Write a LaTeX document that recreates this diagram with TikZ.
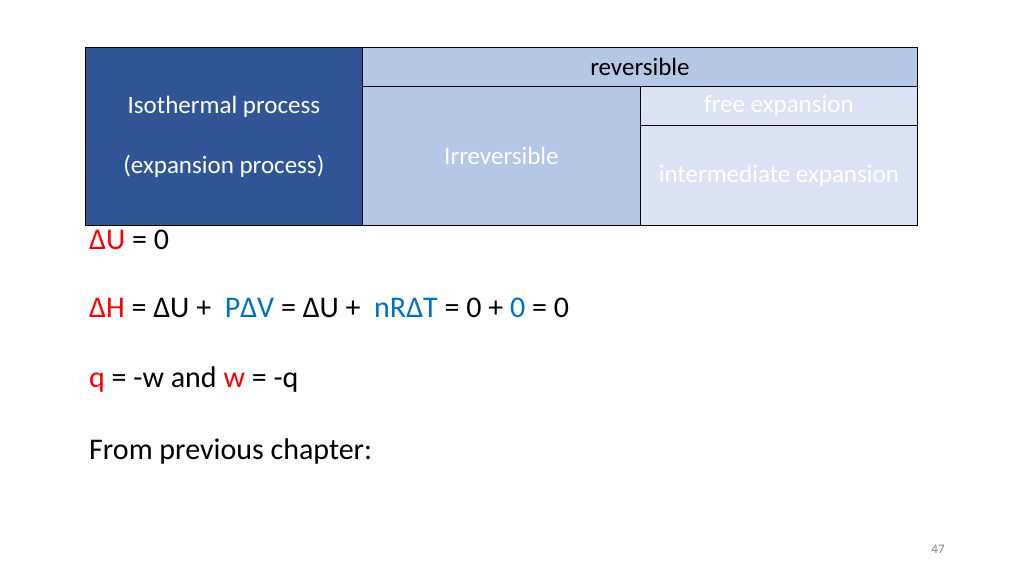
\documentclass[tikz,border=0pt]{standalone}
\usepackage{fontspec}
\setmainfont{Carlito}
\usetikzlibrary{positioning}
\definecolor{cellDark}{HTML}{2F5597}
\definecolor{cellMid}{HTML}{B4C7E7}
\definecolor{cellLight}{HTML}{DAE3F3}
\definecolor{textRed}{HTML}{FF0000}
\definecolor{textBlue}{HTML}{0070C0}
\begin{document}
\begin{tikzpicture}[x=1pt,y=-1pt,
  cell/.style={draw=black, line width=0.8pt, inner sep=0pt, anchor=north west,
    font=\fontsize{25}{30}\selectfont},
  eqline/.style={anchor=west, inner sep=0pt, font=\fontsize{30}{36}\selectfont}]
\useasboundingbox (0,0) rectangle (1024,575);

% table
\node[cell, fill=cellDark, text=white, minimum width=277pt, minimum height=178pt,
  align=center] (iso) at (85,47) {Isothermal process\\[30pt](expansion process)};
\node[cell, fill=cellMid, minimum width=555pt, minimum height=39pt] (rev) at (362,47) {reversible};
\node[cell, fill=cellMid, text=white, minimum width=278pt, minimum height=139pt] (irr) at (362,86) {Irreversible};
\node[cell, fill=cellLight, text=white, minimum width=277pt, minimum height=39pt] (free) at (640,86) {free expansion};
\node[cell, fill=cellLight, text=white, minimum width=277pt, minimum height=100pt] (inter) at (640,125) {\raisebox{-3pt}{intermediate expansion}};

% equations
\node[eqline] (eqU) at (89,240) {\textcolor{textRed}{ΔU} = 0};
\node[eqline] (eqH) at (89,308) {\textcolor{textRed}{ΔH} = ΔU +\ \ \textcolor{textBlue}{PΔV} = ΔU +\ \ \textcolor{textBlue}{nRΔT} = 0 + \textcolor{textBlue}{0} = 0};
\node[eqline] (eqq) at (89,379) {\textcolor{textRed}{q} = -w and \textcolor{textRed}{w} = -q};
\node[eqline] (eqprev) at (89,451) {From previous chapter:};

\node[font=\fontsize{13}{15}\selectfont, text=gray] (page) at (938,549) {47};
\end{tikzpicture}
\end{document}
